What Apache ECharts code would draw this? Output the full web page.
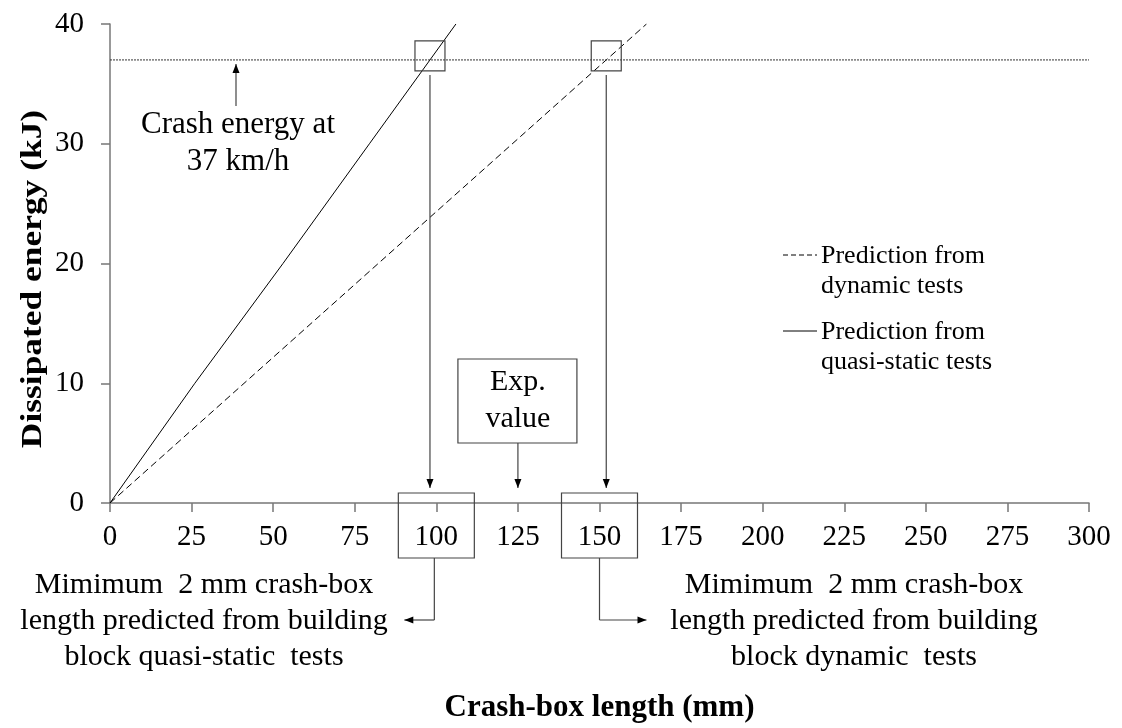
<!DOCTYPE html>
<html><head><meta charset="utf-8">
<script src="https://cdn.jsdelivr.net/npm/echarts@6/dist/echarts.min.js"></script>
<style>html,body{margin:0;padding:0;background:#fff}#c{width:1122px;height:728px}</style>
</head><body><div id="c"></div>
<script>
// ---- data ----
const xTicks = [0, 25, 50, 75, 100, 125, 150, 175, 200, 225, 250, 275, 300];
const yTicks = [0, 10, 20, 30, 40];
const quasiStaticX = [0, 26, 53, 79.5, 106];      // crash-box length (mm)
const quasiStaticY = [0, 10, 20, 30, 40];         // dissipated energy (kJ)
const dynamicX = [0, 164.4];
const dynamicY = [0, 40];
const crashEnergy = 37;                           // kJ at 37 km/h
const expValue = 125;                             // mm
const predictedTicks = [100, 150];                // boxed tick labels
const legendNames = ['Prediction from\ndynamic tests', 'Prediction from\nquasi-static tests'];
const yTitle = 'Dissipated energy (kJ)';
const xTitle = 'Crash-box length (mm)';

const F = "'Liberation Serif','Times New Roman',serif";
const chart = echarts.init(document.getElementById('c'));

const zip = (xs, ys) => xs.map((x, i) => [x, ys[i]]);
const xAtEnergy = (xs, ys, e) => {
  for (let i = 1; i < ys.length; i++) {
    if (e <= ys[i]) { const t = (e - ys[i-1]) / (ys[i] - ys[i-1]); return xs[i-1] + t * (xs[i] - xs[i-1]); }
  }
  return xs[xs.length - 1];
};

const axisCol = '#777';
chart.setOption({
  animation: false,
  backgroundColor: '#fff',
  grid: { left: 110, right: 33, top: 24, bottom: 224 },
  xAxis: {
    type: 'value', min: xTicks[0], max: xTicks[xTicks.length-1], interval: xTicks[1]-xTicks[0],
    axisLine: { lineStyle: { color: axisCol, width: 1.5 } },
    axisTick: { length: 9, lineStyle: { color: axisCol, width: 1.5 } },
    axisLabel: { fontFamily: F, fontSize: 29, color: '#000', margin: 20 },
    splitLine: { show: false },
    name: xTitle, nameLocation: 'middle', nameGap: 189,
    nameTextStyle: { fontFamily: F, fontSize: 31, fontWeight: 'bold', color: '#000' }
  },
  yAxis: {
    type: 'value', min: yTicks[0], max: yTicks[yTicks.length-1], interval: yTicks[1]-yTicks[0],
    axisLine: { show: true, lineStyle: { color: axisCol, width: 1.5 } },
    axisTick: { show: true, length: 9, lineStyle: { color: axisCol, width: 1.5 } },
    axisLabel: { fontFamily: F, fontSize: 29, color: '#000', margin: 26 },
    splitLine: { show: false }
  },
  series: [
    { name: legendNames[0], type: 'line', data: zip(dynamicX, dynamicY), showSymbol: false,
      lineStyle: { color: '#000', width: 1, type: [7, 4] } },
    { name: legendNames[1], type: 'line', data: zip(quasiStaticX, quasiStaticY), showSymbol: false,
      lineStyle: { color: '#000', width: 1 } },
    { name: 'Crash energy', type: 'line', data: [[xTicks[0], crashEnergy], [xTicks[xTicks.length-1], crashEnergy]], showSymbol: false,
      lineStyle: { color: '#333', width: 1, type: [2, 1] } }
  ]
});

// ---- annotations derived from data through the axes ----
const px = (x, y) => chart.convertToPixel({ gridIndex: 0 }, [x, y]);
const lineCol = '#444';
const g = [];
function seg(x1, y1, x2, y2, col) {
  g.push({ type: 'line', shape: { x1, y1, x2, y2 }, style: { stroke: col || lineCol, lineWidth: 1.2 }, z: 10 });
}
function arrow(x1, y1, x2, y2) {
  seg(x1, y1, x2, y2);
  const a = Math.atan2(y2 - y1, x2 - x1), L = 9, W = 3.5;
  const bx = x2 - L * Math.cos(a), by = y2 - L * Math.sin(a);
  const nx = -Math.sin(a), ny = Math.cos(a);
  g.push({ type: 'polygon', shape: { points: [[x2, y2], [bx + nx * W, by + ny * W], [bx - nx * W, by - ny * W]] },
    style: { fill: '#000' }, z: 11 });
}
function box(x, y, w, h, fill) {
  g.push({ type: 'rect', shape: { x, y, width: w, height: h }, style: { fill: fill || 'transparent', stroke: lineCol, lineWidth: 1.2 }, z: 10 });
}
function text(str, x, y, size, opts, extra) {
  g.push(Object.assign({ type: 'text', x, y, z: 12,
    style: Object.assign({ text: str, font: size + 'px ' + F, fill: '#000', align: 'center', verticalAlign: 'middle', lineHeight: Math.round(size * 1.2) }, opts || {}) }, extra || {}));
}

const axisY = px(0, 0)[1];
const lineY = px(0, crashEnergy)[1];
const xq = xAtEnergy(quasiStaticX, quasiStaticY, crashEnergy);
const xd = xAtEnergy(dynamicX, dynamicY, crashEnergy);

// y-axis title (stretched along its reading direction, as in the original)
text(yTitle, 33, 279, 30, { font: 'bold 30px ' + F }, { rotation: Math.PI / 2, scaleX: 1.18 });

// boxes at intersections and arrows down to the axis
[xq, xd].forEach(v => {
  const cx = px(v, crashEnergy)[0];
  box(cx - 15, lineY - 19, 30, 30);
  arrow(cx, lineY + 15, cx, axisY - 15);
});

// boxes around predicted tick labels + connectors
const pLeft = px(predictedTicks[0], 0)[0];
const pRight = px(predictedTicks[1], 0)[0];
[pLeft, pRight].forEach(cx => box(cx - 38, axisY - 10, 76, 65));
const connY = axisY + 117;
seg(pLeft - 2, axisY + 55, pLeft - 2, connY);
arrow(pLeft - 2, connY, pLeft - 32, connY);
seg(pRight, axisY + 55, pRight, connY);
arrow(pRight, connY, pRight + 47, connY);

text('Mimimum  2 mm crash-box\nlength predicted from building\nblock quasi-static  tests', 204, connY + 1, 30, { lineHeight: 36 });
text('Mimimum  2 mm crash-box\nlength predicted from building\nblock dynamic  tests', 854, connY + 1, 30, { lineHeight: 36 });

// experimental value box
const ex = px(expValue, 0)[0];
box(ex - 60, axisY - 144, 119, 84, '#fff');
text('Exp.\nvalue', ex, axisY - 102, 30, { lineHeight: 37 });
arrow(ex, axisY - 60, ex, axisY - 15);

// crash energy label
text('Crash energy at\n37 km/h', 238, 143, 31, { lineHeight: 37 });
arrow(236, 106, 236, lineY + 4);

// legend
const leg = [[255, [5, 3]], [331, null]];
leg.forEach((d, i) => {
  g.push({ type: 'line', shape: { x1: 783, y1: d[0], x2: 817, y2: d[0] },
    style: { stroke: '#000', lineWidth: 1, lineDash: d[1] }, z: 10 });
  text(legendNames[i], 821, d[0] - 14, 26, { align: 'left', verticalAlign: 'top', lineHeight: 30 });
});

chart.setOption({ graphic: { elements: g } });
</script>
</body></html>
